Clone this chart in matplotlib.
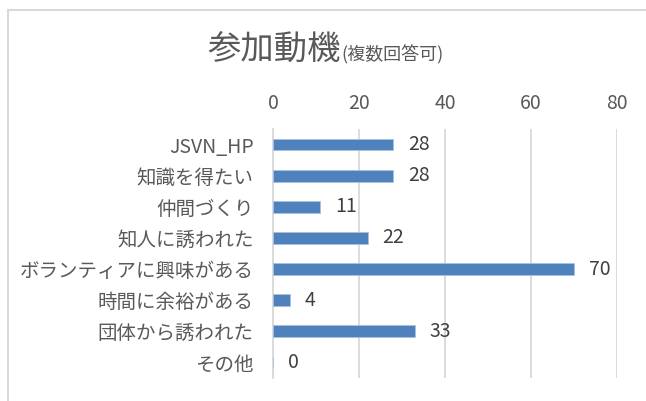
import matplotlib
matplotlib.use("Agg")
import matplotlib.pyplot as plt
from matplotlib.patches import Rectangle

plt.rcParams["font.family"] = ["Noto Sans CJK JP", "DejaVu Sans"]

categories = ["JSVN_HP", "知識を得たい", "仲間づくり", "知人に誘われた",
              "ボランティアに興味がある", "時間に余裕がある", "団体から誘われた", "その他"]
counts = [28, 28, 11, 22, 70, 4, 33, 0]
x_ticks = [0, 20, 40, 60, 80]

W, H = 646, 401
fig = plt.figure(figsize=(W / 100, H / 100), dpi=100)

# chart border (right and bottom edges are cut off in the reference)
fig.patches.append(Rectangle((8 / W, -0.2), 1.2, 1.2 - 9.5 / H,
                             transform=fig.transFigure, fill=False,
                             edgecolor="#d9d9d9", linewidth=1.5))

ax = fig.add_axes([273 / W, 1 - 378 / H, (617 - 273) / W, (378 - 129) / H])
pos = list(range(len(categories)))
ax.barh(pos, counts, height=0.38, color="#4f81bd", edgecolor="#a9c1e0", linewidth=0.6, zorder=3)
ax.set_ylim(len(categories) - 0.5, -0.5)
ax.set_xlim(0, 80)

ax.xaxis.tick_top()
ax.set_xticks(x_ticks)
ax.set_xticklabels([str(t) for t in x_ticks])
ax.tick_params(axis="x", length=0, pad=11, labelsize=14, labelcolor="#595959")
ax.set_yticks(pos)
ax.set_yticklabels(categories)
ax.tick_params(axis="y", length=0, pad=14, labelsize=14, labelcolor="#595959")

ax.grid(axis="x", color="#d9d9d9", linewidth=1.3, zorder=0)
for side in ["top", "right", "bottom"]:
    ax.spines[side].set_visible(False)
ax.spines["left"].set_color("#d9d9d9")
ax.spines["left"].set_linewidth(1.3)

for p, v in zip(pos, counts):
    ax.annotate(str(v), (v, p), xytext=(10.5, 0), textcoords="offset points",
                va="center", ha="left", fontsize=14, color="#404040")

# title: large part + smaller note
ty = 1 - 60 / H
t1 = fig.text(207 / W, ty, "参加動機", fontsize=24, color="#595959", va="baseline", ha="left")
fig.canvas.draw()
bb = t1.get_window_extent()
fig.text(bb.x1 / W + 0.002, ty, "(複数回答可)", fontsize=13, color="#595959",
         va="baseline", ha="left")

fig.savefig("out.png", dpi=100)
